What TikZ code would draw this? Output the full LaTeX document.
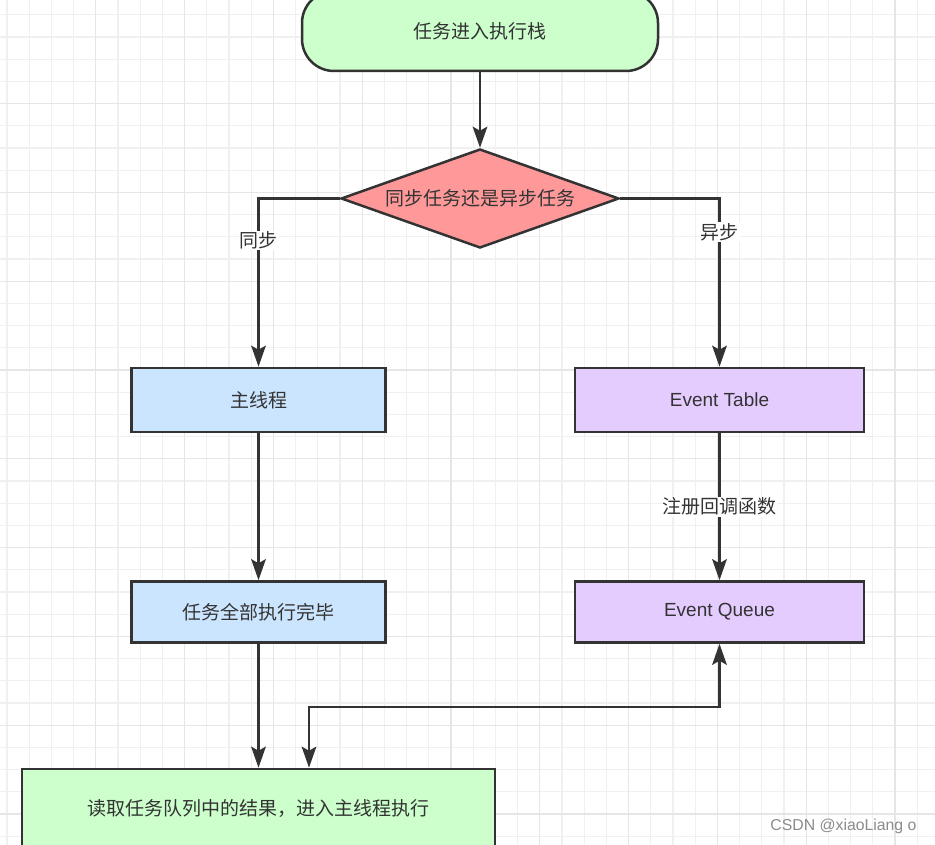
\documentclass[tikz,border=0pt]{standalone}
\usepackage{fontspec}
\setmainfont{Liberation Sans}
\newfontfamily\cjk{Noto Sans CJK SC}
\usepackage{tikz}
\usetikzlibrary{shapes.geometric,arrows.meta}
\definecolor{lineC}{HTML}{333333}
\definecolor{gridminor}{HTML}{F0F0F0}
\definecolor{gridmajor}{HTML}{E6E6E6}
\definecolor{greenC}{HTML}{CCFFCC}
\definecolor{redC}{HTML}{FF9999}
\definecolor{blueC}{HTML}{CCE5FF}
\definecolor{purpleC}{HTML}{E5CCFF}
\tikzset{
  fhead/.tip={Stealth[length=21pt,width=14.5pt,inset=4pt]},
  box/.style={draw=lineC, line width=2.5pt, text=lineC, inner sep=0pt,
    font=\cjk\fontsize{19}{23}\selectfont},
  entext/.style={font=\fontsize{19}{23}\selectfont},
  flow/.style={draw=lineC, line width=2.8pt, -fhead},
  lbl/.style={fill=white, text=lineC, inner sep=1pt, font=\cjk\fontsize{19}{23}\selectfont}
}

\begin{document}
\begin{tikzpicture}[x=1pt,y=-1pt]
\useasboundingbox (0,0) rectangle (935,845);
\fill[white] (0,0) rectangle (935,845);
\foreach \i in {0,...,41} \draw[gridminor, line width=1.3pt] ({7+22.2*\i},0) -- ++(0,845);
\foreach \i in {0,...,37} \draw[gridminor, line width=1.3pt] (0,{14.8+22.2*\i}) -- ++(935,0);
\foreach \i in {0,...,9} \draw[gridmajor, line width=1.3pt] ({95.8+88.8*\i},0) -- ++(0,845);
\foreach \i in {0,...,8} \draw[gridmajor, line width=1.3pt] (0,{103.6+88.8*\i}) -- ++(935,0);

\node[box, rounded corners=32pt, fill=greenC, minimum width=356pt, minimum height=80pt] (start) at (480,31) {任务进入执行栈};
\node[box, diamond, aspect=2.8, fill=redC, minimum width=278pt, minimum height=99pt] (dec) at (480,198.5) {同步任务还是异步任务};
\node[box, fill=blueC, minimum width=254pt, minimum height=64pt] (main) at (258.5,400) {主线程};
\node[box, entext, fill=purpleC, minimum width=289pt, minimum height=64pt] (table) at (719.5,400) {Event Table};
\node[box, fill=blueC, minimum width=254pt, minimum height=61pt] (done) at (258.5,612) {任务全部执行完毕};
\node[box, entext, fill=purpleC, minimum width=289pt, minimum height=61pt] (queue) at (719.5,612) {Event Queue};
\node[box, fill=greenC, minimum width=473pt, minimum height=78pt] (read) at (258.5,808) {读取任务队列中的结果，进入主线程执行};
\coordinate (back) at (309,707);

\draw[flow] (start) -- (dec);
\draw[flow] (dec.west) -| node[lbl, pos=0.625] {同步} (main.north);
\draw[flow] (dec.east) -| node[lbl, pos=0.6] {异步} (table.north);
\draw[flow] (main) -- (done);
\draw[flow] (table) -- node[lbl] {注册回调函数} (queue);
\draw[flow] (done) -- (read);
\draw[flow, fhead-fhead] (read.north -| back) -- (back) -| (queue.south);

\node[text=black!45, font=\fontsize{15.8}{18}\selectfont, anchor=east] (mark) at (920,826) {CSDN @xiaoLiang o};
\end{tikzpicture}
\end{document}
